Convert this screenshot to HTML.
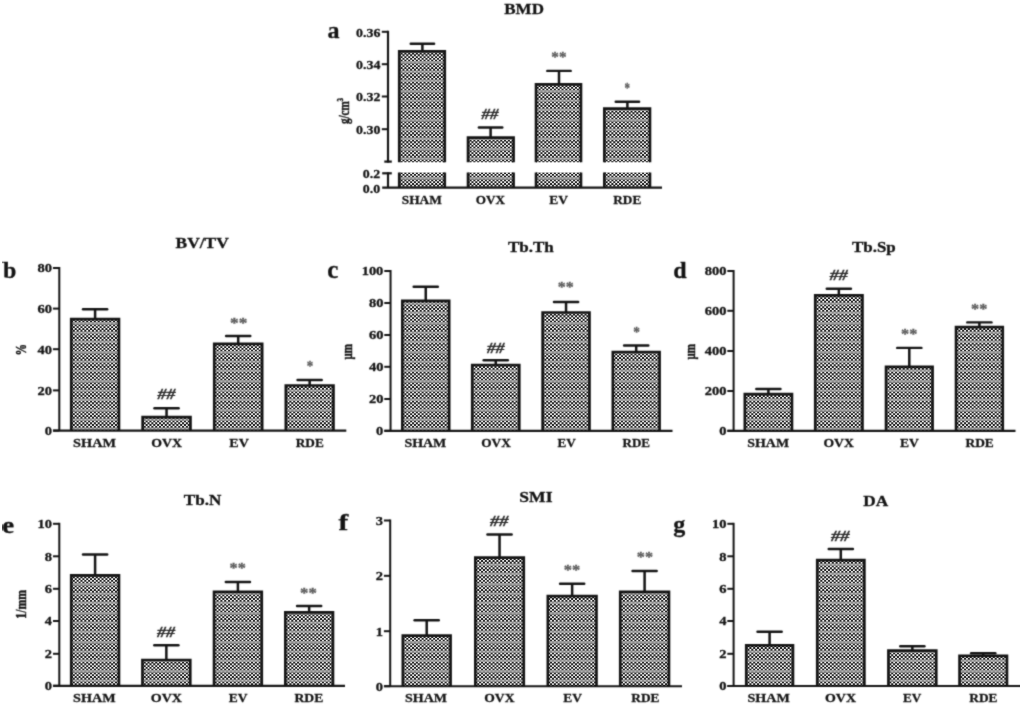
<!DOCTYPE html>
<html><head><meta charset="utf-8"><title>Figure</title>
<style>
html,body{margin:0;padding:0;background:#fff;}
body{width:1024px;height:708px;overflow:hidden;font-family:"Liberation Serif",serif;}
svg{display:block;}
svg text{font-family:"Liberation Serif",serif;}
</style></head>
<body>
<svg width="1024" height="708" viewBox="0 0 1024 708">
<defs>
<pattern id="chk" x="0" y="0" width="23" height="29" patternUnits="userSpaceOnUse"><rect width="23" height="29" fill="#e8e8e8"/><path d="M-0.052,-0.054h2.02v1.92h-2.02zM22.948,-0.054h2.02v1.92h-2.02zM-0.052,28.946h2.02v1.92h-2.02zM3.782,-0.054h2.02v1.92h-2.02zM3.782,28.946h2.02v1.92h-2.02zM7.615,-0.054h2.02v1.92h-2.02zM7.615,28.946h2.02v1.92h-2.02zM11.448,-0.054h2.02v1.92h-2.02zM11.448,28.946h2.02v1.92h-2.02zM15.282,-0.054h2.02v1.92h-2.02zM15.282,28.946h2.02v1.92h-2.02zM19.115,-0.054h2.02v1.92h-2.02zM19.115,28.946h2.02v1.92h-2.02zM1.865,1.759h2.02v1.92h-2.02zM5.698,1.759h2.02v1.92h-2.02zM9.532,1.759h2.02v1.92h-2.02zM13.365,1.759h2.02v1.92h-2.02zM17.198,1.759h2.02v1.92h-2.02zM21.032,1.759h2.02v1.92h-2.02zM-1.968,1.759h2.02v1.92h-2.02zM-0.052,3.571h2.02v1.92h-2.02zM22.948,3.571h2.02v1.92h-2.02zM3.782,3.571h2.02v1.92h-2.02zM7.615,3.571h2.02v1.92h-2.02zM11.448,3.571h2.02v1.92h-2.02zM15.282,3.571h2.02v1.92h-2.02zM19.115,3.571h2.02v1.92h-2.02zM1.865,5.384h2.02v1.92h-2.02zM5.698,5.384h2.02v1.92h-2.02zM9.532,5.384h2.02v1.92h-2.02zM13.365,5.384h2.02v1.92h-2.02zM17.198,5.384h2.02v1.92h-2.02zM21.032,5.384h2.02v1.92h-2.02zM-1.968,5.384h2.02v1.92h-2.02zM-0.052,7.196h2.02v1.92h-2.02zM22.948,7.196h2.02v1.92h-2.02zM3.782,7.196h2.02v1.92h-2.02zM7.615,7.196h2.02v1.92h-2.02zM11.448,7.196h2.02v1.92h-2.02zM15.282,7.196h2.02v1.92h-2.02zM19.115,7.196h2.02v1.92h-2.02zM1.865,9.009h2.02v1.92h-2.02zM5.698,9.009h2.02v1.92h-2.02zM9.532,9.009h2.02v1.92h-2.02zM13.365,9.009h2.02v1.92h-2.02zM17.198,9.009h2.02v1.92h-2.02zM21.032,9.009h2.02v1.92h-2.02zM-1.968,9.009h2.02v1.92h-2.02zM-0.052,10.821h2.02v1.92h-2.02zM22.948,10.821h2.02v1.92h-2.02zM3.782,10.821h2.02v1.92h-2.02zM7.615,10.821h2.02v1.92h-2.02zM11.448,10.821h2.02v1.92h-2.02zM15.282,10.821h2.02v1.92h-2.02zM19.115,10.821h2.02v1.92h-2.02zM1.865,12.634h2.02v1.92h-2.02zM5.698,12.634h2.02v1.92h-2.02zM9.532,12.634h2.02v1.92h-2.02zM13.365,12.634h2.02v1.92h-2.02zM17.198,12.634h2.02v1.92h-2.02zM21.032,12.634h2.02v1.92h-2.02zM-1.968,12.634h2.02v1.92h-2.02zM-0.052,14.446h2.02v1.92h-2.02zM22.948,14.446h2.02v1.92h-2.02zM3.782,14.446h2.02v1.92h-2.02zM7.615,14.446h2.02v1.92h-2.02zM11.448,14.446h2.02v1.92h-2.02zM15.282,14.446h2.02v1.92h-2.02zM19.115,14.446h2.02v1.92h-2.02zM1.865,16.259h2.02v1.92h-2.02zM5.698,16.259h2.02v1.92h-2.02zM9.532,16.259h2.02v1.92h-2.02zM13.365,16.259h2.02v1.92h-2.02zM17.198,16.259h2.02v1.92h-2.02zM21.032,16.259h2.02v1.92h-2.02zM-1.968,16.259h2.02v1.92h-2.02zM-0.052,18.071h2.02v1.92h-2.02zM22.948,18.071h2.02v1.92h-2.02zM3.782,18.071h2.02v1.92h-2.02zM7.615,18.071h2.02v1.92h-2.02zM11.448,18.071h2.02v1.92h-2.02zM15.282,18.071h2.02v1.92h-2.02zM19.115,18.071h2.02v1.92h-2.02zM1.865,19.884h2.02v1.92h-2.02zM5.698,19.884h2.02v1.92h-2.02zM9.532,19.884h2.02v1.92h-2.02zM13.365,19.884h2.02v1.92h-2.02zM17.198,19.884h2.02v1.92h-2.02zM21.032,19.884h2.02v1.92h-2.02zM-1.968,19.884h2.02v1.92h-2.02zM-0.052,21.696h2.02v1.92h-2.02zM22.948,21.696h2.02v1.92h-2.02zM3.782,21.696h2.02v1.92h-2.02zM7.615,21.696h2.02v1.92h-2.02zM11.448,21.696h2.02v1.92h-2.02zM15.282,21.696h2.02v1.92h-2.02zM19.115,21.696h2.02v1.92h-2.02zM1.865,23.509h2.02v1.92h-2.02zM5.698,23.509h2.02v1.92h-2.02zM9.532,23.509h2.02v1.92h-2.02zM13.365,23.509h2.02v1.92h-2.02zM17.198,23.509h2.02v1.92h-2.02zM21.032,23.509h2.02v1.92h-2.02zM-1.968,23.509h2.02v1.92h-2.02zM-0.052,25.321h2.02v1.92h-2.02zM22.948,25.321h2.02v1.92h-2.02zM3.782,25.321h2.02v1.92h-2.02zM7.615,25.321h2.02v1.92h-2.02zM11.448,25.321h2.02v1.92h-2.02zM15.282,25.321h2.02v1.92h-2.02zM19.115,25.321h2.02v1.92h-2.02zM1.865,27.134h2.02v1.92h-2.02zM1.865,-1.866h2.02v1.92h-2.02zM5.698,27.134h2.02v1.92h-2.02zM5.698,-1.866h2.02v1.92h-2.02zM9.532,27.134h2.02v1.92h-2.02zM9.532,-1.866h2.02v1.92h-2.02zM13.365,27.134h2.02v1.92h-2.02zM13.365,-1.866h2.02v1.92h-2.02zM17.198,27.134h2.02v1.92h-2.02zM17.198,-1.866h2.02v1.92h-2.02zM21.032,27.134h2.02v1.92h-2.02zM-1.968,27.134h2.02v1.92h-2.02zM21.032,-1.866h2.02v1.92h-2.02z" fill="#2a2a2a"/><rect y="3" width="23" height="2" fill="#a4a4a4" fill-opacity="0.78"/><rect y="13" width="23" height="1" fill="#b0b0b0" fill-opacity="0.7"/><rect y="14" width="23" height="1" fill="#a0a0a0" fill-opacity="0.45"/><rect y="22" width="23" height="2" fill="#a8a8a8" fill-opacity="0.75"/></pattern>
<filter id="soft" x="0" y="0" width="100%" height="100%" color-interpolation-filters="sRGB"><feConvolveMatrix order="3" kernelMatrix="0.03 0.10 0.03 0.10 0.48 0.10 0.03 0.10 0.03" divisor="1" edgeMode="duplicate" preserveAlpha="false"/></filter>
</defs>
<rect width="1024" height="708" fill="#ffffff"/>
<g>
<rect x="399.25" y="51.40" width="45.50" height="110.90" fill="url(#chk)"/>
<rect x="399.25" y="172.50" width="45.50" height="15.20" fill="url(#chk)"/>
<rect x="468.05" y="137.60" width="45.50" height="24.70" fill="url(#chk)"/>
<rect x="468.05" y="172.50" width="45.50" height="15.20" fill="url(#chk)"/>
<rect x="536.05" y="84.30" width="44.90" height="78.00" fill="url(#chk)"/>
<rect x="536.05" y="172.50" width="44.90" height="15.20" fill="url(#chk)"/>
<rect x="604.35" y="108.60" width="45.60" height="53.70" fill="url(#chk)"/>
<rect x="604.35" y="172.50" width="45.60" height="15.20" fill="url(#chk)"/>
<rect x="71.25" y="319.10" width="47.70" height="111.50" fill="url(#chk)"/>
<rect x="142.65" y="417.20" width="47.80" height="13.40" fill="url(#chk)"/>
<rect x="214.25" y="343.90" width="47.90" height="86.70" fill="url(#chk)"/>
<rect x="285.85" y="385.50" width="47.60" height="45.10" fill="url(#chk)"/>
<rect x="402.35" y="300.90" width="46.80" height="129.90" fill="url(#chk)"/>
<rect x="472.25" y="365.00" width="47.00" height="65.80" fill="url(#chk)"/>
<rect x="542.65" y="312.50" width="46.80" height="118.30" fill="url(#chk)"/>
<rect x="612.85" y="352.00" width="46.70" height="78.80" fill="url(#chk)"/>
<rect x="744.85" y="394.20" width="47.10" height="36.60" fill="url(#chk)"/>
<rect x="815.25" y="295.40" width="47.20" height="135.40" fill="url(#chk)"/>
<rect x="886.05" y="366.80" width="46.50" height="64.00" fill="url(#chk)"/>
<rect x="956.05" y="327.20" width="46.70" height="103.60" fill="url(#chk)"/>
<rect x="71.25" y="575.40" width="47.70" height="110.40" fill="url(#chk)"/>
<rect x="142.45" y="660.00" width="47.80" height="25.80" fill="url(#chk)"/>
<rect x="214.05" y="591.80" width="47.70" height="94.00" fill="url(#chk)"/>
<rect x="285.35" y="612.40" width="47.60" height="73.40" fill="url(#chk)"/>
<rect x="402.85" y="635.70" width="47.70" height="50.50" fill="url(#chk)"/>
<rect x="475.35" y="557.60" width="48.40" height="128.60" fill="url(#chk)"/>
<rect x="547.85" y="596.20" width="48.60" height="90.00" fill="url(#chk)"/>
<rect x="620.25" y="591.80" width="48.70" height="94.40" fill="url(#chk)"/>
<rect x="746.25" y="645.30" width="46.70" height="40.70" fill="url(#chk)"/>
<rect x="817.25" y="560.20" width="47.10" height="125.80" fill="url(#chk)"/>
<rect x="888.45" y="650.70" width="47.80" height="35.30" fill="url(#chk)"/>
<rect x="959.55" y="655.80" width="47.40" height="30.20" fill="url(#chk)"/>
</g>
<g filter="url(#soft)">
<line x1="388.00" y1="30.75" x2="388.00" y2="162.60" stroke="#141414" stroke-width="2.15" stroke-linecap="butt"/>
<line x1="381.80" y1="31.80" x2="388.00" y2="31.80" stroke="#141414" stroke-width="2.0" stroke-linecap="butt"/>
<text transform="translate(380.40,36.70) scale(1.07,1)" font-size="13" font-weight="bold" text-anchor="end" fill="#141414" stroke="#141414" stroke-width="0.3">0.36</text>
<line x1="381.80" y1="64.20" x2="388.00" y2="64.20" stroke="#141414" stroke-width="2.0" stroke-linecap="butt"/>
<text transform="translate(380.40,69.10) scale(1.07,1)" font-size="13" font-weight="bold" text-anchor="end" fill="#141414" stroke="#141414" stroke-width="0.3">0.34</text>
<line x1="381.80" y1="96.50" x2="388.00" y2="96.50" stroke="#141414" stroke-width="2.0" stroke-linecap="butt"/>
<text transform="translate(380.40,101.40) scale(1.07,1)" font-size="13" font-weight="bold" text-anchor="end" fill="#141414" stroke="#141414" stroke-width="0.3">0.32</text>
<line x1="381.80" y1="129.20" x2="388.00" y2="129.20" stroke="#141414" stroke-width="2.0" stroke-linecap="butt"/>
<text transform="translate(380.40,134.10) scale(1.07,1)" font-size="13" font-weight="bold" text-anchor="end" fill="#141414" stroke="#141414" stroke-width="0.3">0.30</text>
<line x1="384.30" y1="161.60" x2="391.80" y2="161.60" stroke="#141414" stroke-width="2.2" stroke-linecap="butt"/>
<line x1="388.00" y1="172.30" x2="388.00" y2="187.70" stroke="#141414" stroke-width="2.15" stroke-linecap="butt"/>
<line x1="382.20" y1="173.30" x2="391.80" y2="173.30" stroke="#141414" stroke-width="2.2" stroke-linecap="butt"/>
<text transform="translate(380.10,177.90) scale(1.07,1)" font-size="13" font-weight="bold" text-anchor="end" fill="#141414" stroke="#141414" stroke-width="0.3">0.2</text>
<text transform="translate(380.10,192.90) scale(1.07,1)" font-size="13" font-weight="bold" text-anchor="end" fill="#141414" stroke="#141414" stroke-width="0.3">0.0</text>
<path d="M399.25,162.30 V51.40 H444.75 V162.30" fill="none" stroke="#141414" stroke-width="2.7" stroke-linejoin="miter"/>
<path d="M399.25,172.50 V187.70 M444.75,172.50 V187.70" fill="none" stroke="#141414" stroke-width="2.7" stroke-linejoin="miter"/>
<path d="M468.05,162.30 V137.60 H513.55 V162.30" fill="none" stroke="#141414" stroke-width="2.7" stroke-linejoin="miter"/>
<path d="M468.05,172.50 V187.70 M513.55,172.50 V187.70" fill="none" stroke="#141414" stroke-width="2.7" stroke-linejoin="miter"/>
<path d="M536.05,162.30 V84.30 H580.95 V162.30" fill="none" stroke="#141414" stroke-width="2.7" stroke-linejoin="miter"/>
<path d="M536.05,172.50 V187.70 M580.95,172.50 V187.70" fill="none" stroke="#141414" stroke-width="2.7" stroke-linejoin="miter"/>
<path d="M604.35,162.30 V108.60 H649.95 V162.30" fill="none" stroke="#141414" stroke-width="2.7" stroke-linejoin="miter"/>
<path d="M604.35,172.50 V187.70 M649.95,172.50 V187.70" fill="none" stroke="#141414" stroke-width="2.7" stroke-linejoin="miter"/>
<line x1="382.20" y1="187.60" x2="662.00" y2="187.60" stroke="#141414" stroke-width="2.15" stroke-linecap="butt"/>
<line x1="410.70" y1="43.80" x2="434.10" y2="43.80" stroke="#141414" stroke-width="2.4" stroke-linecap="round"/>
<line x1="422.40" y1="43.80" x2="422.40" y2="51.00" stroke="#141414" stroke-width="2.5" stroke-linecap="butt"/>
<line x1="478.90" y1="127.50" x2="502.30" y2="127.50" stroke="#141414" stroke-width="2.4" stroke-linecap="round"/>
<line x1="490.60" y1="127.50" x2="490.60" y2="137.20" stroke="#141414" stroke-width="2.5" stroke-linecap="butt"/>
<line x1="547.30" y1="70.90" x2="570.70" y2="70.90" stroke="#141414" stroke-width="2.4" stroke-linecap="round"/>
<line x1="559.00" y1="70.90" x2="559.00" y2="83.90" stroke="#141414" stroke-width="2.5" stroke-linecap="butt"/>
<line x1="615.70" y1="101.80" x2="639.10" y2="101.80" stroke="#141414" stroke-width="2.4" stroke-linecap="round"/>
<line x1="627.40" y1="101.80" x2="627.40" y2="108.20" stroke="#141414" stroke-width="2.5" stroke-linecap="butt"/>
<text x="481.50" y="118.55" font-size="14" font-weight="bold" font-style="italic" fill="#2a2a2a" stroke="#2a2a2a" stroke-width="0.3" textLength="17.00" lengthAdjust="spacingAndGlyphs">##</text>
<text x="551.30" y="61.70" font-size="15" font-weight="bold" font-style="normal" fill="#5a5a5a" stroke="#5a5a5a" stroke-width="0.3" textLength="15.20" lengthAdjust="spacingAndGlyphs">**</text>
<text x="624.50" y="92.65" font-size="15" font-weight="bold" font-style="normal" fill="#5a5a5a" stroke="#5a5a5a" stroke-width="0.3" textLength="5.50" lengthAdjust="spacingAndGlyphs">*</text>
<text x="401.80" y="204.00" font-size="13" font-weight="bold" font-style="normal" fill="#141414" stroke="#141414" stroke-width="0.3" textLength="40.00" lengthAdjust="spacingAndGlyphs">SHAM</text>
<text x="475.80" y="204.00" font-size="13" font-weight="bold" font-style="normal" fill="#141414" stroke="#141414" stroke-width="0.3" textLength="29.20" lengthAdjust="spacingAndGlyphs">OVX</text>
<text x="549.30" y="204.00" font-size="13" font-weight="bold" font-style="normal" fill="#141414" stroke="#141414" stroke-width="0.3" textLength="18.70" lengthAdjust="spacingAndGlyphs">EV</text>
<text x="613.30" y="204.00" font-size="13" font-weight="bold" font-style="normal" fill="#141414" stroke="#141414" stroke-width="0.3" textLength="28.00" lengthAdjust="spacingAndGlyphs">RDE</text>
<text x="504.30" y="14.10" font-size="15.5" font-weight="bold" font-style="normal" fill="#141414" stroke="#141414" stroke-width="0.3" textLength="39.60" lengthAdjust="spacingAndGlyphs">BMD</text>
<text x="327.50" y="37.60" font-size="24" font-weight="bold" font-style="normal" fill="#141414" stroke="#141414" stroke-width="0.3">a</text>
<text transform="translate(349.00,111.00) rotate(-90) scale(1,1.28)" font-size="11" font-weight="bold" text-anchor="middle" fill="#141414" stroke="#141414" stroke-width="0.35">g/cm<tspan font-size="7" dy="-4.5">3</tspan></text>
<line x1="59.30" y1="267.00" x2="59.30" y2="430.60" stroke="#141414" stroke-width="2.0" stroke-linecap="butt"/>
<line x1="53.02" y1="268.00" x2="59.30" y2="268.00" stroke="#141414" stroke-width="2.0" stroke-linecap="butt"/>
<text transform="translate(52.12,272.30) scale(1.21,1)" font-size="12" font-weight="bold" text-anchor="end" fill="#141414" stroke="#141414" stroke-width="0.3">80</text>
<line x1="53.02" y1="308.60" x2="59.30" y2="308.60" stroke="#141414" stroke-width="2.0" stroke-linecap="butt"/>
<text transform="translate(52.12,312.90) scale(1.21,1)" font-size="12" font-weight="bold" text-anchor="end" fill="#141414" stroke="#141414" stroke-width="0.3">60</text>
<line x1="53.02" y1="349.20" x2="59.30" y2="349.20" stroke="#141414" stroke-width="2.0" stroke-linecap="butt"/>
<text transform="translate(52.12,353.50) scale(1.21,1)" font-size="12" font-weight="bold" text-anchor="end" fill="#141414" stroke="#141414" stroke-width="0.3">40</text>
<line x1="53.02" y1="390.40" x2="59.30" y2="390.40" stroke="#141414" stroke-width="2.0" stroke-linecap="butt"/>
<text transform="translate(52.12,394.70) scale(1.21,1)" font-size="12" font-weight="bold" text-anchor="end" fill="#141414" stroke="#141414" stroke-width="0.3">20</text>
<path d="M71.25,430.60 V319.10 H118.95 V430.60" fill="none" stroke="#141414" stroke-width="2.7" stroke-linejoin="miter"/>
<path d="M142.65,430.60 V417.20 H190.45 V430.60" fill="none" stroke="#141414" stroke-width="2.7" stroke-linejoin="miter"/>
<path d="M214.25,430.60 V343.90 H262.15 V430.60" fill="none" stroke="#141414" stroke-width="2.7" stroke-linejoin="miter"/>
<path d="M285.85,430.60 V385.50 H333.45 V430.60" fill="none" stroke="#141414" stroke-width="2.7" stroke-linejoin="miter"/>
<line x1="53.02" y1="430.60" x2="346.30" y2="430.60" stroke="#141414" stroke-width="2.15" stroke-linecap="butt"/>
<line x1="83.00" y1="309.20" x2="107.20" y2="309.20" stroke="#141414" stroke-width="2.4" stroke-linecap="round"/>
<line x1="95.10" y1="309.20" x2="95.10" y2="319.70" stroke="#141414" stroke-width="2.5" stroke-linecap="butt"/>
<line x1="154.45" y1="408.30" x2="178.65" y2="408.30" stroke="#141414" stroke-width="2.4" stroke-linecap="round"/>
<line x1="166.55" y1="408.30" x2="166.55" y2="417.80" stroke="#141414" stroke-width="2.5" stroke-linecap="butt"/>
<line x1="226.10" y1="336.00" x2="250.30" y2="336.00" stroke="#141414" stroke-width="2.4" stroke-linecap="round"/>
<line x1="238.20" y1="336.00" x2="238.20" y2="344.50" stroke="#141414" stroke-width="2.5" stroke-linecap="butt"/>
<line x1="297.55" y1="380.00" x2="321.75" y2="380.00" stroke="#141414" stroke-width="2.4" stroke-linecap="round"/>
<line x1="309.65" y1="380.00" x2="309.65" y2="386.10" stroke="#141414" stroke-width="2.5" stroke-linecap="butt"/>
<text x="157.50" y="399.40" font-size="14" font-weight="bold" font-style="italic" fill="#2a2a2a" stroke="#2a2a2a" stroke-width="0.3" textLength="17.90" lengthAdjust="spacingAndGlyphs">##</text>
<text x="230.00" y="327.60" font-size="15" font-weight="bold" font-style="normal" fill="#5a5a5a" stroke="#5a5a5a" stroke-width="0.3" textLength="17.30" lengthAdjust="spacingAndGlyphs">**</text>
<text x="306.80" y="371.40" font-size="15" font-weight="bold" font-style="normal" fill="#5a5a5a" stroke="#5a5a5a" stroke-width="0.3" textLength="6.50" lengthAdjust="spacingAndGlyphs">*</text>
<text x="73.10" y="447.20" font-size="13" font-weight="bold" font-style="normal" fill="#141414" stroke="#141414" stroke-width="0.3" textLength="42.90" lengthAdjust="spacingAndGlyphs">SHAM</text>
<text x="151.30" y="447.20" font-size="13" font-weight="bold" font-style="normal" fill="#141414" stroke="#141414" stroke-width="0.3" textLength="30.70" lengthAdjust="spacingAndGlyphs">OVX</text>
<text x="229.30" y="447.20" font-size="13" font-weight="bold" font-style="normal" fill="#141414" stroke="#141414" stroke-width="0.3" textLength="19.50" lengthAdjust="spacingAndGlyphs">EV</text>
<text x="295.80" y="447.20" font-size="13" font-weight="bold" font-style="normal" fill="#141414" stroke="#141414" stroke-width="0.3" textLength="28.00" lengthAdjust="spacingAndGlyphs">RDE</text>
<text x="175.60" y="248.10" font-size="15" font-weight="bold" font-style="normal" fill="#141414" stroke="#141414" stroke-width="0.3" textLength="53.20" lengthAdjust="spacingAndGlyphs">BV/TV</text>
<text x="3.00" y="278.00" font-size="24" font-weight="bold" font-style="normal" fill="#141414" stroke="#141414" stroke-width="0.3">b</text>
<text transform="translate(26.30,349.80) rotate(-90) scale(1,1.28)" font-size="11.5" font-weight="bold" text-anchor="middle" fill="#141414" stroke="#141414" stroke-width="0.35">%</text>
<text transform="translate(52.12,434.90) scale(1.21,1)" font-size="12" font-weight="bold" text-anchor="end" fill="#141414" stroke="#141414" stroke-width="0.3">0</text>
<line x1="53.10" y1="430.60" x2="59.30" y2="430.60" stroke="#141414" stroke-width="2.0" stroke-linecap="butt"/>
<line x1="390.55" y1="270.00" x2="390.55" y2="430.80" stroke="#141414" stroke-width="2.0" stroke-linecap="butt"/>
<line x1="384.28" y1="271.00" x2="390.55" y2="271.00" stroke="#141414" stroke-width="2.0" stroke-linecap="butt"/>
<text transform="translate(383.38,275.30) scale(1.21,1)" font-size="12" font-weight="bold" text-anchor="end" fill="#141414" stroke="#141414" stroke-width="0.3">100</text>
<line x1="384.28" y1="303.00" x2="390.55" y2="303.00" stroke="#141414" stroke-width="2.0" stroke-linecap="butt"/>
<text transform="translate(383.38,307.30) scale(1.21,1)" font-size="12" font-weight="bold" text-anchor="end" fill="#141414" stroke="#141414" stroke-width="0.3">80</text>
<line x1="384.28" y1="335.00" x2="390.55" y2="335.00" stroke="#141414" stroke-width="2.0" stroke-linecap="butt"/>
<text transform="translate(383.38,339.30) scale(1.21,1)" font-size="12" font-weight="bold" text-anchor="end" fill="#141414" stroke="#141414" stroke-width="0.3">60</text>
<line x1="384.28" y1="366.80" x2="390.55" y2="366.80" stroke="#141414" stroke-width="2.0" stroke-linecap="butt"/>
<text transform="translate(383.38,371.10) scale(1.21,1)" font-size="12" font-weight="bold" text-anchor="end" fill="#141414" stroke="#141414" stroke-width="0.3">40</text>
<line x1="384.28" y1="399.00" x2="390.55" y2="399.00" stroke="#141414" stroke-width="2.0" stroke-linecap="butt"/>
<text transform="translate(383.38,403.30) scale(1.21,1)" font-size="12" font-weight="bold" text-anchor="end" fill="#141414" stroke="#141414" stroke-width="0.3">20</text>
<path d="M402.35,430.80 V300.90 H449.15 V430.80" fill="none" stroke="#141414" stroke-width="2.7" stroke-linejoin="miter"/>
<path d="M472.25,430.80 V365.00 H519.25 V430.80" fill="none" stroke="#141414" stroke-width="2.7" stroke-linejoin="miter"/>
<path d="M542.65,430.80 V312.50 H589.45 V430.80" fill="none" stroke="#141414" stroke-width="2.7" stroke-linejoin="miter"/>
<path d="M612.85,430.80 V352.00 H659.55 V430.80" fill="none" stroke="#141414" stroke-width="2.7" stroke-linejoin="miter"/>
<line x1="384.28" y1="430.80" x2="672.50" y2="430.80" stroke="#141414" stroke-width="2.15" stroke-linecap="butt"/>
<line x1="413.65" y1="286.80" x2="437.85" y2="286.80" stroke="#141414" stroke-width="2.4" stroke-linecap="round"/>
<line x1="425.75" y1="286.80" x2="425.75" y2="301.50" stroke="#141414" stroke-width="2.5" stroke-linecap="butt"/>
<line x1="483.65" y1="360.20" x2="507.85" y2="360.20" stroke="#141414" stroke-width="2.4" stroke-linecap="round"/>
<line x1="495.75" y1="360.20" x2="495.75" y2="365.60" stroke="#141414" stroke-width="2.5" stroke-linecap="butt"/>
<line x1="553.95" y1="302.00" x2="578.15" y2="302.00" stroke="#141414" stroke-width="2.4" stroke-linecap="round"/>
<line x1="566.05" y1="302.00" x2="566.05" y2="313.10" stroke="#141414" stroke-width="2.5" stroke-linecap="butt"/>
<line x1="624.10" y1="345.50" x2="648.30" y2="345.50" stroke="#141414" stroke-width="2.4" stroke-linecap="round"/>
<line x1="636.20" y1="345.50" x2="636.20" y2="352.60" stroke="#141414" stroke-width="2.5" stroke-linecap="butt"/>
<text x="487.00" y="352.80" font-size="14" font-weight="bold" font-style="italic" fill="#2a2a2a" stroke="#2a2a2a" stroke-width="0.3" textLength="17.50" lengthAdjust="spacingAndGlyphs">##</text>
<text x="557.80" y="292.40" font-size="15" font-weight="bold" font-style="normal" fill="#5a5a5a" stroke="#5a5a5a" stroke-width="0.3" textLength="16.00" lengthAdjust="spacingAndGlyphs">**</text>
<text x="633.30" y="336.90" font-size="15" font-weight="bold" font-style="normal" fill="#5a5a5a" stroke="#5a5a5a" stroke-width="0.3" textLength="6.70" lengthAdjust="spacingAndGlyphs">*</text>
<text x="404.40" y="447.00" font-size="13" font-weight="bold" font-style="normal" fill="#141414" stroke="#141414" stroke-width="0.3" textLength="41.90" lengthAdjust="spacingAndGlyphs">SHAM</text>
<text x="481.30" y="447.00" font-size="13" font-weight="bold" font-style="normal" fill="#141414" stroke="#141414" stroke-width="0.3" textLength="29.50" lengthAdjust="spacingAndGlyphs">OVX</text>
<text x="557.50" y="447.00" font-size="13" font-weight="bold" font-style="normal" fill="#141414" stroke="#141414" stroke-width="0.3" textLength="18.30" lengthAdjust="spacingAndGlyphs">EV</text>
<text x="622.50" y="447.00" font-size="13" font-weight="bold" font-style="normal" fill="#141414" stroke="#141414" stroke-width="0.3" textLength="27.50" lengthAdjust="spacingAndGlyphs">RDE</text>
<text x="508.00" y="252.40" font-size="15" font-weight="bold" font-style="normal" fill="#141414" stroke="#141414" stroke-width="0.3" textLength="45.80" lengthAdjust="spacingAndGlyphs">Tb.Th</text>
<text x="327.30" y="278.00" font-size="25" font-weight="bold" font-style="normal" fill="#141414" stroke="#141414" stroke-width="0.3">c</text>
<text transform="translate(351.90,351.70) rotate(-90) scale(1,1.28)" font-size="11" font-weight="bold" text-anchor="middle" fill="#141414" stroke="#141414" stroke-width="0.35">μm</text>
<text transform="translate(383.38,435.10) scale(1.21,1)" font-size="12" font-weight="bold" text-anchor="end" fill="#141414" stroke="#141414" stroke-width="0.3">0</text>
<line x1="384.35" y1="430.80" x2="390.55" y2="430.80" stroke="#141414" stroke-width="2.0" stroke-linecap="butt"/>
<line x1="733.60" y1="270.00" x2="733.60" y2="430.80" stroke="#141414" stroke-width="2.0" stroke-linecap="butt"/>
<line x1="727.32" y1="271.00" x2="733.60" y2="271.00" stroke="#141414" stroke-width="2.0" stroke-linecap="butt"/>
<text transform="translate(726.42,275.30) scale(1.21,1)" font-size="12" font-weight="bold" text-anchor="end" fill="#141414" stroke="#141414" stroke-width="0.3">800</text>
<line x1="727.32" y1="310.80" x2="733.60" y2="310.80" stroke="#141414" stroke-width="2.0" stroke-linecap="butt"/>
<text transform="translate(726.42,315.10) scale(1.21,1)" font-size="12" font-weight="bold" text-anchor="end" fill="#141414" stroke="#141414" stroke-width="0.3">600</text>
<line x1="727.32" y1="351.00" x2="733.60" y2="351.00" stroke="#141414" stroke-width="2.0" stroke-linecap="butt"/>
<text transform="translate(726.42,355.30) scale(1.21,1)" font-size="12" font-weight="bold" text-anchor="end" fill="#141414" stroke="#141414" stroke-width="0.3">400</text>
<line x1="727.32" y1="391.00" x2="733.60" y2="391.00" stroke="#141414" stroke-width="2.0" stroke-linecap="butt"/>
<text transform="translate(726.42,395.30) scale(1.21,1)" font-size="12" font-weight="bold" text-anchor="end" fill="#141414" stroke="#141414" stroke-width="0.3">200</text>
<path d="M744.85,430.80 V394.20 H791.95 V430.80" fill="none" stroke="#141414" stroke-width="2.7" stroke-linejoin="miter"/>
<path d="M815.25,430.80 V295.40 H862.45 V430.80" fill="none" stroke="#141414" stroke-width="2.7" stroke-linejoin="miter"/>
<path d="M886.05,430.80 V366.80 H932.55 V430.80" fill="none" stroke="#141414" stroke-width="2.7" stroke-linejoin="miter"/>
<path d="M956.05,430.80 V327.20 H1002.75 V430.80" fill="none" stroke="#141414" stroke-width="2.7" stroke-linejoin="miter"/>
<line x1="727.32" y1="430.80" x2="1015.50" y2="430.80" stroke="#141414" stroke-width="2.15" stroke-linecap="butt"/>
<line x1="756.30" y1="389.00" x2="780.50" y2="389.00" stroke="#141414" stroke-width="2.4" stroke-linecap="round"/>
<line x1="768.40" y1="389.00" x2="768.40" y2="394.80" stroke="#141414" stroke-width="2.5" stroke-linecap="butt"/>
<line x1="826.75" y1="288.80" x2="850.95" y2="288.80" stroke="#141414" stroke-width="2.4" stroke-linecap="round"/>
<line x1="838.85" y1="288.80" x2="838.85" y2="296.00" stroke="#141414" stroke-width="2.5" stroke-linecap="butt"/>
<line x1="897.20" y1="347.90" x2="921.40" y2="347.90" stroke="#141414" stroke-width="2.4" stroke-linecap="round"/>
<line x1="909.30" y1="347.90" x2="909.30" y2="367.40" stroke="#141414" stroke-width="2.5" stroke-linecap="butt"/>
<line x1="967.30" y1="322.40" x2="991.50" y2="322.40" stroke="#141414" stroke-width="2.4" stroke-linecap="round"/>
<line x1="979.40" y1="322.40" x2="979.40" y2="327.80" stroke="#141414" stroke-width="2.5" stroke-linecap="butt"/>
<text x="829.80" y="280.30" font-size="14" font-weight="bold" font-style="italic" fill="#2a2a2a" stroke="#2a2a2a" stroke-width="0.3" textLength="18.00" lengthAdjust="spacingAndGlyphs">##</text>
<text x="901.00" y="339.30" font-size="15" font-weight="bold" font-style="normal" fill="#5a5a5a" stroke="#5a5a5a" stroke-width="0.3" textLength="16.30" lengthAdjust="spacingAndGlyphs">**</text>
<text x="971.00" y="313.50" font-size="15" font-weight="bold" font-style="normal" fill="#5a5a5a" stroke="#5a5a5a" stroke-width="0.3" textLength="16.30" lengthAdjust="spacingAndGlyphs">**</text>
<text x="747.30" y="447.00" font-size="13" font-weight="bold" font-style="normal" fill="#141414" stroke="#141414" stroke-width="0.3" textLength="41.70" lengthAdjust="spacingAndGlyphs">SHAM</text>
<text x="823.50" y="447.00" font-size="13" font-weight="bold" font-style="normal" fill="#141414" stroke="#141414" stroke-width="0.3" textLength="30.30" lengthAdjust="spacingAndGlyphs">OVX</text>
<text x="900.00" y="447.00" font-size="13" font-weight="bold" font-style="normal" fill="#141414" stroke="#141414" stroke-width="0.3" textLength="18.80" lengthAdjust="spacingAndGlyphs">EV</text>
<text x="965.50" y="447.00" font-size="13" font-weight="bold" font-style="normal" fill="#141414" stroke="#141414" stroke-width="0.3" textLength="28.30" lengthAdjust="spacingAndGlyphs">RDE</text>
<text x="852.00" y="252.40" font-size="15" font-weight="bold" font-style="normal" fill="#141414" stroke="#141414" stroke-width="0.3" textLength="43.80" lengthAdjust="spacingAndGlyphs">Tb.Sp</text>
<text x="673.30" y="278.00" font-size="24" font-weight="bold" font-style="normal" fill="#141414" stroke="#141414" stroke-width="0.3">d</text>
<text transform="translate(695.20,351.70) rotate(-90) scale(1,1.28)" font-size="11" font-weight="bold" text-anchor="middle" fill="#141414" stroke="#141414" stroke-width="0.35">μm</text>
<text transform="translate(726.42,435.10) scale(1.21,1)" font-size="12" font-weight="bold" text-anchor="end" fill="#141414" stroke="#141414" stroke-width="0.3">0</text>
<line x1="727.40" y1="430.80" x2="733.60" y2="430.80" stroke="#141414" stroke-width="2.0" stroke-linecap="butt"/>
<line x1="59.30" y1="522.80" x2="59.30" y2="685.80" stroke="#141414" stroke-width="2.0" stroke-linecap="butt"/>
<line x1="53.02" y1="523.80" x2="59.30" y2="523.80" stroke="#141414" stroke-width="2.0" stroke-linecap="butt"/>
<text transform="translate(52.12,528.10) scale(1.21,1)" font-size="12" font-weight="bold" text-anchor="end" fill="#141414" stroke="#141414" stroke-width="0.3">10</text>
<line x1="53.02" y1="556.30" x2="59.30" y2="556.30" stroke="#141414" stroke-width="2.0" stroke-linecap="butt"/>
<text transform="translate(52.12,560.60) scale(1.21,1)" font-size="12" font-weight="bold" text-anchor="end" fill="#141414" stroke="#141414" stroke-width="0.3">8</text>
<line x1="53.02" y1="588.80" x2="59.30" y2="588.80" stroke="#141414" stroke-width="2.0" stroke-linecap="butt"/>
<text transform="translate(52.12,593.10) scale(1.21,1)" font-size="12" font-weight="bold" text-anchor="end" fill="#141414" stroke="#141414" stroke-width="0.3">6</text>
<line x1="53.02" y1="621.00" x2="59.30" y2="621.00" stroke="#141414" stroke-width="2.0" stroke-linecap="butt"/>
<text transform="translate(52.12,625.30) scale(1.21,1)" font-size="12" font-weight="bold" text-anchor="end" fill="#141414" stroke="#141414" stroke-width="0.3">4</text>
<line x1="53.02" y1="653.80" x2="59.30" y2="653.80" stroke="#141414" stroke-width="2.0" stroke-linecap="butt"/>
<text transform="translate(52.12,658.10) scale(1.21,1)" font-size="12" font-weight="bold" text-anchor="end" fill="#141414" stroke="#141414" stroke-width="0.3">2</text>
<path d="M71.25,685.80 V575.40 H118.95 V685.80" fill="none" stroke="#141414" stroke-width="2.7" stroke-linejoin="miter"/>
<path d="M142.45,685.80 V660.00 H190.25 V685.80" fill="none" stroke="#141414" stroke-width="2.7" stroke-linejoin="miter"/>
<path d="M214.05,685.80 V591.80 H261.75 V685.80" fill="none" stroke="#141414" stroke-width="2.7" stroke-linejoin="miter"/>
<path d="M285.35,685.80 V612.40 H332.95 V685.80" fill="none" stroke="#141414" stroke-width="2.7" stroke-linejoin="miter"/>
<line x1="53.02" y1="685.80" x2="345.00" y2="685.80" stroke="#141414" stroke-width="2.15" stroke-linecap="butt"/>
<line x1="83.00" y1="554.50" x2="107.20" y2="554.50" stroke="#141414" stroke-width="2.4" stroke-linecap="round"/>
<line x1="95.10" y1="554.50" x2="95.10" y2="576.00" stroke="#141414" stroke-width="2.5" stroke-linecap="butt"/>
<line x1="154.25" y1="645.20" x2="178.45" y2="645.20" stroke="#141414" stroke-width="2.4" stroke-linecap="round"/>
<line x1="166.35" y1="645.20" x2="166.35" y2="660.60" stroke="#141414" stroke-width="2.5" stroke-linecap="butt"/>
<line x1="225.80" y1="582.00" x2="250.00" y2="582.00" stroke="#141414" stroke-width="2.4" stroke-linecap="round"/>
<line x1="237.90" y1="582.00" x2="237.90" y2="592.40" stroke="#141414" stroke-width="2.5" stroke-linecap="butt"/>
<line x1="297.05" y1="606.00" x2="321.25" y2="606.00" stroke="#141414" stroke-width="2.4" stroke-linecap="round"/>
<line x1="309.15" y1="606.00" x2="309.15" y2="613.00" stroke="#141414" stroke-width="2.5" stroke-linecap="butt"/>
<text x="157.00" y="636.80" font-size="14" font-weight="bold" font-style="italic" fill="#2a2a2a" stroke="#2a2a2a" stroke-width="0.3" textLength="18.00" lengthAdjust="spacingAndGlyphs">##</text>
<text x="229.50" y="573.20" font-size="15" font-weight="bold" font-style="normal" fill="#5a5a5a" stroke="#5a5a5a" stroke-width="0.3" textLength="16.30" lengthAdjust="spacingAndGlyphs">**</text>
<text x="300.00" y="597.90" font-size="15" font-weight="bold" font-style="normal" fill="#5a5a5a" stroke="#5a5a5a" stroke-width="0.3" textLength="16.80" lengthAdjust="spacingAndGlyphs">**</text>
<text x="73.10" y="702.00" font-size="13" font-weight="bold" font-style="normal" fill="#141414" stroke="#141414" stroke-width="0.3" textLength="42.50" lengthAdjust="spacingAndGlyphs">SHAM</text>
<text x="150.80" y="702.00" font-size="13" font-weight="bold" font-style="normal" fill="#141414" stroke="#141414" stroke-width="0.3" textLength="31.20" lengthAdjust="spacingAndGlyphs">OVX</text>
<text x="228.80" y="702.00" font-size="13" font-weight="bold" font-style="normal" fill="#141414" stroke="#141414" stroke-width="0.3" textLength="18.70" lengthAdjust="spacingAndGlyphs">EV</text>
<text x="294.50" y="702.00" font-size="13" font-weight="bold" font-style="normal" fill="#141414" stroke="#141414" stroke-width="0.3" textLength="28.80" lengthAdjust="spacingAndGlyphs">RDE</text>
<text x="183.80" y="505.00" font-size="15" font-weight="bold" font-style="normal" fill="#141414" stroke="#141414" stroke-width="0.3" textLength="37.50" lengthAdjust="spacingAndGlyphs">Tb.N</text>
<text x="2.30" y="533.20" font-size="22.5" font-weight="bold" font-style="normal" fill="#141414" stroke="#141414" stroke-width="0.3" textLength="11.90" lengthAdjust="spacingAndGlyphs">e</text>
<text transform="translate(26.20,604.40) rotate(-90) scale(1,1.28)" font-size="11" font-weight="bold" text-anchor="middle" fill="#141414" stroke="#141414" stroke-width="0.35" textLength="28.50" lengthAdjust="spacingAndGlyphs">1/mm</text>
<text transform="translate(52.12,690.10) scale(1.21,1)" font-size="12" font-weight="bold" text-anchor="end" fill="#141414" stroke="#141414" stroke-width="0.3">0</text>
<line x1="53.10" y1="685.80" x2="59.30" y2="685.80" stroke="#141414" stroke-width="2.0" stroke-linecap="butt"/>
<line x1="390.20" y1="519.50" x2="390.20" y2="686.20" stroke="#141414" stroke-width="2.0" stroke-linecap="butt"/>
<line x1="383.93" y1="520.50" x2="390.20" y2="520.50" stroke="#141414" stroke-width="2.0" stroke-linecap="butt"/>
<text transform="translate(383.03,524.80) scale(1.21,1)" font-size="12" font-weight="bold" text-anchor="end" fill="#141414" stroke="#141414" stroke-width="0.3">3</text>
<line x1="383.93" y1="575.80" x2="390.20" y2="575.80" stroke="#141414" stroke-width="2.0" stroke-linecap="butt"/>
<text transform="translate(383.03,580.10) scale(1.21,1)" font-size="12" font-weight="bold" text-anchor="end" fill="#141414" stroke="#141414" stroke-width="0.3">2</text>
<line x1="383.93" y1="631.20" x2="390.20" y2="631.20" stroke="#141414" stroke-width="2.0" stroke-linecap="butt"/>
<text transform="translate(383.03,635.50) scale(1.21,1)" font-size="12" font-weight="bold" text-anchor="end" fill="#141414" stroke="#141414" stroke-width="0.3">1</text>
<path d="M402.85,686.20 V635.70 H450.55 V686.20" fill="none" stroke="#141414" stroke-width="2.7" stroke-linejoin="miter"/>
<path d="M475.35,686.20 V557.60 H523.75 V686.20" fill="none" stroke="#141414" stroke-width="2.7" stroke-linejoin="miter"/>
<path d="M547.85,686.20 V596.20 H596.45 V686.20" fill="none" stroke="#141414" stroke-width="2.7" stroke-linejoin="miter"/>
<path d="M620.25,686.20 V591.80 H668.95 V686.20" fill="none" stroke="#141414" stroke-width="2.7" stroke-linejoin="miter"/>
<line x1="383.93" y1="686.20" x2="682.00" y2="686.20" stroke="#141414" stroke-width="2.15" stroke-linecap="butt"/>
<line x1="414.60" y1="620.30" x2="438.80" y2="620.30" stroke="#141414" stroke-width="2.4" stroke-linecap="round"/>
<line x1="426.70" y1="620.30" x2="426.70" y2="636.30" stroke="#141414" stroke-width="2.5" stroke-linecap="butt"/>
<line x1="487.45" y1="534.50" x2="511.65" y2="534.50" stroke="#141414" stroke-width="2.4" stroke-linecap="round"/>
<line x1="499.55" y1="534.50" x2="499.55" y2="558.20" stroke="#141414" stroke-width="2.5" stroke-linecap="butt"/>
<line x1="560.05" y1="583.80" x2="584.25" y2="583.80" stroke="#141414" stroke-width="2.4" stroke-linecap="round"/>
<line x1="572.15" y1="583.80" x2="572.15" y2="596.80" stroke="#141414" stroke-width="2.5" stroke-linecap="butt"/>
<line x1="632.50" y1="571.00" x2="656.70" y2="571.00" stroke="#141414" stroke-width="2.4" stroke-linecap="round"/>
<line x1="644.60" y1="571.00" x2="644.60" y2="592.40" stroke="#141414" stroke-width="2.5" stroke-linecap="butt"/>
<text x="490.00" y="525.60" font-size="14" font-weight="bold" font-style="italic" fill="#2a2a2a" stroke="#2a2a2a" stroke-width="0.3" textLength="18.30" lengthAdjust="spacingAndGlyphs">##</text>
<text x="563.80" y="575.10" font-size="15" font-weight="bold" font-style="normal" fill="#5a5a5a" stroke="#5a5a5a" stroke-width="0.3" textLength="16.50" lengthAdjust="spacingAndGlyphs">**</text>
<text x="636.80" y="562.30" font-size="15" font-weight="bold" font-style="normal" fill="#5a5a5a" stroke="#5a5a5a" stroke-width="0.3" textLength="16.20" lengthAdjust="spacingAndGlyphs">**</text>
<text x="405.00" y="702.00" font-size="13" font-weight="bold" font-style="normal" fill="#141414" stroke="#141414" stroke-width="0.3" textLength="41.90" lengthAdjust="spacingAndGlyphs">SHAM</text>
<text x="484.30" y="702.00" font-size="13" font-weight="bold" font-style="normal" fill="#141414" stroke="#141414" stroke-width="0.3" textLength="30.20" lengthAdjust="spacingAndGlyphs">OVX</text>
<text x="563.30" y="702.00" font-size="13" font-weight="bold" font-style="normal" fill="#141414" stroke="#141414" stroke-width="0.3" textLength="18.70" lengthAdjust="spacingAndGlyphs">EV</text>
<text x="631.30" y="702.00" font-size="13" font-weight="bold" font-style="normal" fill="#141414" stroke="#141414" stroke-width="0.3" textLength="28.20" lengthAdjust="spacingAndGlyphs">RDE</text>
<text x="519.30" y="502.00" font-size="15" font-weight="bold" font-style="normal" fill="#141414" stroke="#141414" stroke-width="0.3" textLength="33.20" lengthAdjust="spacingAndGlyphs">SMI</text>
<text x="338.40" y="530.00" font-size="24" font-weight="bold" font-style="normal" fill="#141414" stroke="#141414" stroke-width="0.3" textLength="9.80" lengthAdjust="spacingAndGlyphs">f</text>
<text transform="translate(383.03,690.50) scale(1.21,1)" font-size="12" font-weight="bold" text-anchor="end" fill="#141414" stroke="#141414" stroke-width="0.3">0</text>
<line x1="384.00" y1="686.20" x2="390.20" y2="686.20" stroke="#141414" stroke-width="2.0" stroke-linecap="butt"/>
<line x1="733.60" y1="522.80" x2="733.60" y2="686.00" stroke="#141414" stroke-width="2.0" stroke-linecap="butt"/>
<line x1="727.32" y1="523.80" x2="733.60" y2="523.80" stroke="#141414" stroke-width="2.0" stroke-linecap="butt"/>
<text transform="translate(726.42,528.10) scale(1.21,1)" font-size="12" font-weight="bold" text-anchor="end" fill="#141414" stroke="#141414" stroke-width="0.3">10</text>
<line x1="727.32" y1="556.30" x2="733.60" y2="556.30" stroke="#141414" stroke-width="2.0" stroke-linecap="butt"/>
<text transform="translate(726.42,560.60) scale(1.21,1)" font-size="12" font-weight="bold" text-anchor="end" fill="#141414" stroke="#141414" stroke-width="0.3">8</text>
<line x1="727.32" y1="588.80" x2="733.60" y2="588.80" stroke="#141414" stroke-width="2.0" stroke-linecap="butt"/>
<text transform="translate(726.42,593.10) scale(1.21,1)" font-size="12" font-weight="bold" text-anchor="end" fill="#141414" stroke="#141414" stroke-width="0.3">6</text>
<line x1="727.32" y1="621.00" x2="733.60" y2="621.00" stroke="#141414" stroke-width="2.0" stroke-linecap="butt"/>
<text transform="translate(726.42,625.30) scale(1.21,1)" font-size="12" font-weight="bold" text-anchor="end" fill="#141414" stroke="#141414" stroke-width="0.3">4</text>
<line x1="727.32" y1="653.80" x2="733.60" y2="653.80" stroke="#141414" stroke-width="2.0" stroke-linecap="butt"/>
<text transform="translate(726.42,658.10) scale(1.21,1)" font-size="12" font-weight="bold" text-anchor="end" fill="#141414" stroke="#141414" stroke-width="0.3">2</text>
<path d="M746.25,686.00 V645.30 H792.95 V686.00" fill="none" stroke="#141414" stroke-width="2.7" stroke-linejoin="miter"/>
<path d="M817.25,686.00 V560.20 H864.35 V686.00" fill="none" stroke="#141414" stroke-width="2.7" stroke-linejoin="miter"/>
<path d="M888.45,686.00 V650.70 H936.25 V686.00" fill="none" stroke="#141414" stroke-width="2.7" stroke-linejoin="miter"/>
<path d="M959.55,686.00 V655.80 H1006.95 V686.00" fill="none" stroke="#141414" stroke-width="2.7" stroke-linejoin="miter"/>
<line x1="727.32" y1="686.00" x2="1019.30" y2="686.00" stroke="#141414" stroke-width="2.15" stroke-linecap="butt"/>
<line x1="757.50" y1="631.70" x2="781.70" y2="631.70" stroke="#141414" stroke-width="2.4" stroke-linecap="round"/>
<line x1="769.60" y1="631.70" x2="769.60" y2="645.90" stroke="#141414" stroke-width="2.5" stroke-linecap="butt"/>
<line x1="828.70" y1="549.00" x2="852.90" y2="549.00" stroke="#141414" stroke-width="2.4" stroke-linecap="round"/>
<line x1="840.80" y1="549.00" x2="840.80" y2="560.80" stroke="#141414" stroke-width="2.5" stroke-linecap="butt"/>
<line x1="900.25" y1="646.20" x2="924.45" y2="646.20" stroke="#141414" stroke-width="2.4" stroke-linecap="round"/>
<line x1="912.35" y1="646.20" x2="912.35" y2="651.30" stroke="#141414" stroke-width="2.5" stroke-linecap="butt"/>
<line x1="971.15" y1="653.20" x2="995.35" y2="653.20" stroke="#141414" stroke-width="2.4" stroke-linecap="round"/>
<line x1="983.25" y1="653.20" x2="983.25" y2="656.40" stroke="#141414" stroke-width="2.5" stroke-linecap="butt"/>
<text x="831.00" y="540.60" font-size="14" font-weight="bold" font-style="italic" fill="#2a2a2a" stroke="#2a2a2a" stroke-width="0.3" textLength="18.50" lengthAdjust="spacingAndGlyphs">##</text>
<text x="747.50" y="702.00" font-size="13" font-weight="bold" font-style="normal" fill="#141414" stroke="#141414" stroke-width="0.3" textLength="42.30" lengthAdjust="spacingAndGlyphs">SHAM</text>
<text x="825.00" y="702.00" font-size="13" font-weight="bold" font-style="normal" fill="#141414" stroke="#141414" stroke-width="0.3" textLength="31.00" lengthAdjust="spacingAndGlyphs">OVX</text>
<text x="903.00" y="702.00" font-size="13" font-weight="bold" font-style="normal" fill="#141414" stroke="#141414" stroke-width="0.3" textLength="18.30" lengthAdjust="spacingAndGlyphs">EV</text>
<text x="969.30" y="702.00" font-size="13" font-weight="bold" font-style="normal" fill="#141414" stroke="#141414" stroke-width="0.3" textLength="28.20" lengthAdjust="spacingAndGlyphs">RDE</text>
<text x="863.30" y="505.50" font-size="15" font-weight="bold" font-style="normal" fill="#141414" stroke="#141414" stroke-width="0.3" textLength="25.00" lengthAdjust="spacingAndGlyphs">DA</text>
<text x="673.30" y="531.50" font-size="24" font-weight="bold" font-style="normal" fill="#141414" stroke="#141414" stroke-width="0.3">g</text>
<text transform="translate(726.42,690.30) scale(1.21,1)" font-size="12" font-weight="bold" text-anchor="end" fill="#141414" stroke="#141414" stroke-width="0.3">0</text>
<line x1="727.40" y1="686.00" x2="733.60" y2="686.00" stroke="#141414" stroke-width="2.0" stroke-linecap="butt"/>
</g>
</svg>
</body></html>
